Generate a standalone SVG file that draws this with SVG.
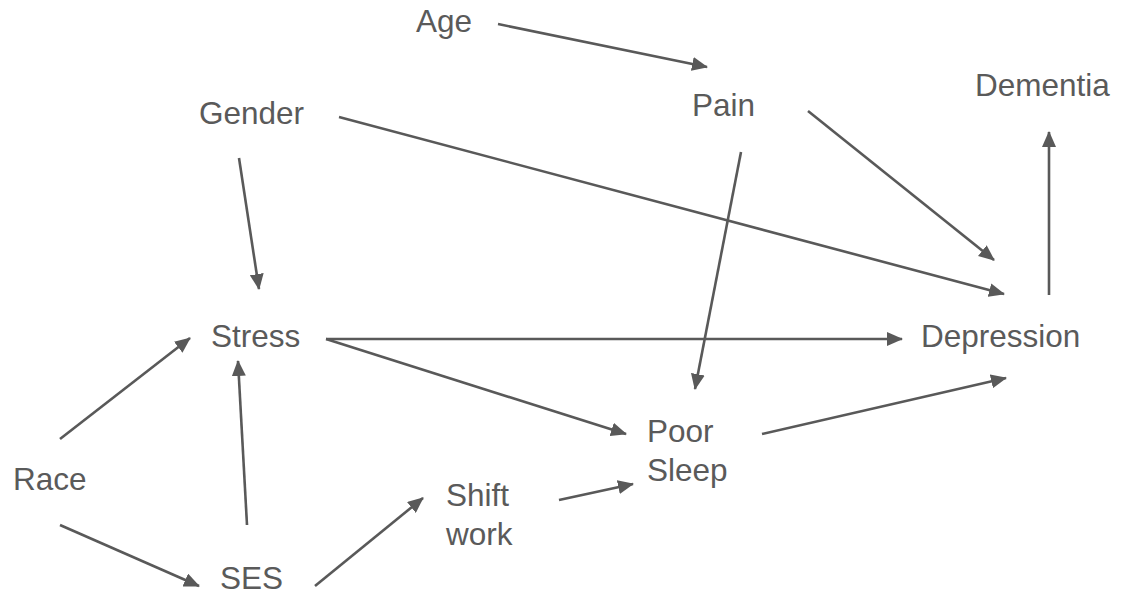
<svg xmlns="http://www.w3.org/2000/svg" width="1127" height="597" viewBox="0 0 1127 597">
<style>
text{font-family:"Liberation Sans",Arial,sans-serif;font-size:31.5px;fill:#5a5a5a}
.e{stroke:#595959;stroke-width:2.6;fill:none;marker-end:url(#ah)}
</style>
<defs>
<marker id="ah" markerUnits="userSpaceOnUse" markerWidth="16" markerHeight="14" refX="15" refY="7" orient="auto">
<path d="M0,0 L16,7 L0,14 z" fill="#595959"/>
</marker>
</defs>
<rect width="1127" height="597" fill="#fff"/>
<g id="connectors">
<line class="e" x1="498" y1="24" x2="707" y2="67"/>
<line class="e" x1="808" y1="111" x2="994" y2="260"/>
<line class="e" x1="741" y1="152" x2="695" y2="389"/>
<line class="e" x1="339" y1="117" x2="1004" y2="294"/>
<line class="e" x1="239" y1="158" x2="259" y2="289"/>
<line class="e" x1="326" y1="339" x2="902" y2="339"/>
<line class="e" x1="326" y1="339" x2="626" y2="434"/>
<line class="e" x1="60" y1="439" x2="190" y2="338"/>
<line class="e" x1="247" y1="525" x2="238" y2="361"/>
<line class="e" x1="60" y1="525" x2="199" y2="586"/>
<line class="e" x1="315" y1="586" x2="423" y2="498"/>
<line class="e" x1="559" y1="500" x2="633" y2="484"/>
<line class="e" x1="762" y1="434" x2="1006" y2="378"/>
<line class="e" x1="1049" y1="295" x2="1049" y2="132"/>
</g>
<g id="age"><text x="416" y="32">Age</text></g>
<g id="gender"><text x="199" y="124">Gender</text></g>
<g id="pain"><text x="692" y="116">Pain</text></g>
<g id="dementia"><text x="975" y="96">Dementia</text></g>
<g id="stress"><text x="211" y="347">Stress</text></g>
<g id="depression"><text x="921" y="347">Depression</text></g>
<g id="poorsleep"><text x="647" y="442">Poor</text><text x="647" y="481">Sleep</text></g>
<g id="race"><text x="13" y="490">Race</text></g>
<g id="shiftwork"><text x="446" y="506">Shift</text><text x="446" y="545">work</text></g>
<g id="ses"><text x="220" y="589">SES</text></g>
</svg>
